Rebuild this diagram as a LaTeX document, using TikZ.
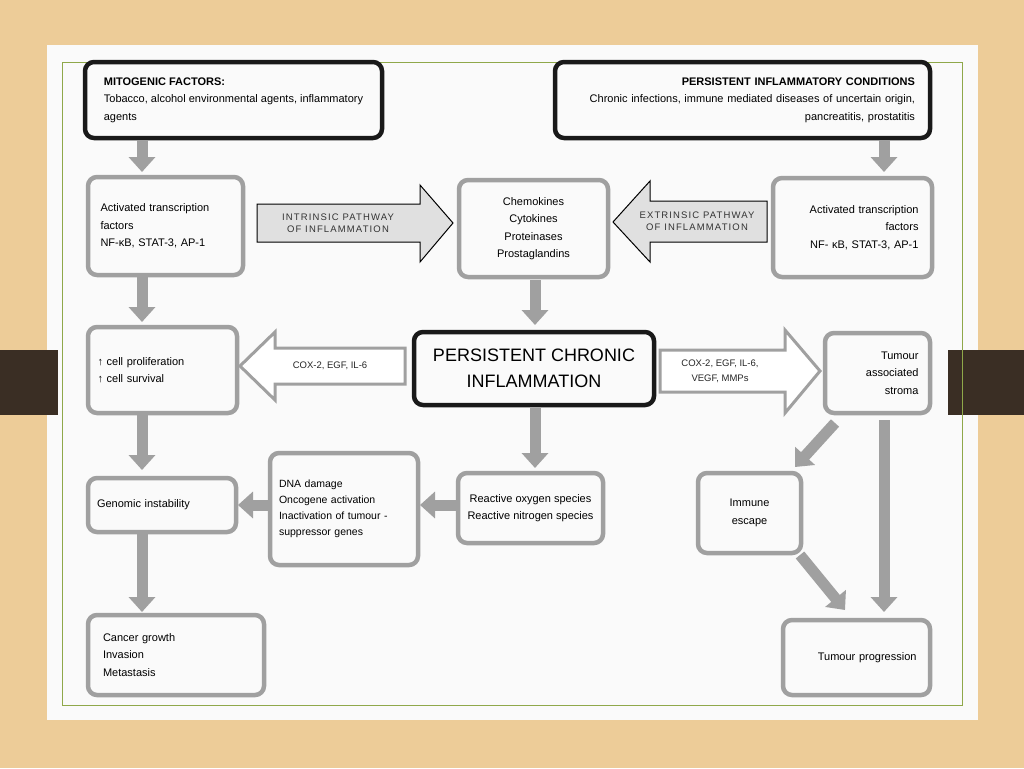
\documentclass[tikz,border=0pt]{standalone}
\usepackage{fontspec}
\setmainfont{Liberation Sans}
\usetikzlibrary{arrows.meta,shapes.arrows}
\definecolor{tan}{HTML}{EDCC98}
\definecolor{brn}{HTML}{3A2E24}
\definecolor{gr}{HTML}{A0A0A0}
\definecolor{frm}{HTML}{8FA84A}
\newcommand{\bx}[7]{\node[#2, minimum width={#5-#3}, minimum height={#6-#4}] (#1) at ({(#3+#5)/2},{(#4+#6)/2}) {#7};}
\begin{document}
\hyphenpenalty=10000
\begin{tikzpicture}[x=1pt,y=-1pt,
  base/.style={draw, rounded corners=9, inner sep=0, font=\fontsize{11}{17.5}\selectfont},
  blk/.style={base, line width=4.5pt, draw=black!90},
  gbox/.style={base, line width=4.5pt, draw=gr},
  ga/.style={draw=gr, line width=11pt, -{Triangle[width=26pt,length=15pt]}},
  lbl/.style={font=\fontsize{9.5}{12.5}\selectfont\addfontfeature{LetterSpace=12}, align=center, text=black!80},
  sml/.style={font=\fontsize{9.5}{15}\selectfont, align=center, text=black!85}]
\useasboundingbox (0,0) rectangle (1024,768);
\fill[tan] (0,0) rectangle (1024,768);
\fill[white!96!gray] (47,45) rectangle (978,720);
\fill[brn] (0,350) rectangle (58,415);
\fill[brn] (948,350) rectangle (1024,415);
\draw[frm, line width=1pt] (62,62) rectangle (962,705);
% boxes
\bx{mito}{blk, align=left, inner xsep=16, anchor=center}{85}{62}{382}{138}{\textbf{MITOGENIC FACTORS:}\\Tobacco, alcohol environmental agents, inflammatory\\agents}
\bx{pers}{blk, align=right, text width=345}{555}{62}{930}{138}{\textbf{PERSISTENT INFLAMMATORY CONDITIONS}\\Chronic infections, immune mediated diseases of uncertain origin,\\pancreatitis, prostatitis}
\bx{actL}{gbox, align=left, text width=130}{88}{177}{243}{275}{Activated transcription\\factors\\NF-κB, STAT-3, AP-1}
\bx{chem}{gbox, align=center}{459}{180}{608}{277}{Chemokines\\Cytokines\\Proteinases\\Prostaglandins}
\bx{actR}{gbox, align=right, text width=132}{773}{178}{932}{277}{Activated transcription\\factors\\NF- κB, STAT-3, AP-1}
\bx{prol}{gbox, align=left, text width=130}{88}{327}{237}{413}{↑ cell proliferation\\↑ cell survival}
\bx{pci}{blk, align=center, font=\fontsize{18}{26}\selectfont}{414}{332}{654}{405}{PERSISTENT CHRONIC\\INFLAMMATION}
\bx{str}{gbox, align=right, text width=82}{825}{333}{930}{413}{Tumour\\associated\\stroma}
\bx{gen}{gbox, align=left, text width=130}{88}{478}{236}{532}{Genomic instability}
\bx{dna}{gbox, align=left, text width=130, font=\fontsize{10.5}{16}\selectfont}{270}{453}{418}{565}{DNA damage\\Oncogene activation\\Inactivation of tumour -\\suppressor genes}
\bx{ros}{gbox, align=center}{458}{473}{603}{543}{Reactive oxygen species\\Reactive nitrogen species}
\bx{imm}{gbox, align=center}{698}{473}{801}{553}{Immune\\escape}
\bx{can}{gbox, align=left, text width=146}{88}{615}{264}{695}{Cancer growth\\Invasion\\Metastasis}
\bx{prog}{gbox, align=right, text width=120}{783}{620}{930}{695}{Tumour progression}
% block arrows
\draw[fill=black!12, line width=1pt] (257,204) -- (420,204) -- (420,185) -- (453,223) -- (420,262) -- (420,242) -- (257,242) -- cycle;
\node[lbl] (intr) at (338,223) {INTRINSIC PATHWAY\\OF INFLAMMATION};
\draw[fill=black!12, line width=1pt] (767,201) -- (650,201) -- (650,181) -- (613,222) -- (650,262) -- (650,242) -- (767,242) -- cycle;
\node[lbl] (extr) at (697,221) {EXTRINSIC PATHWAY\\OF INFLAMMATION};
\draw[draw=gr, fill=white, line width=3pt] (405,348) -- (275,348) -- (275,332) -- (240,366) -- (275,400) -- (275,384) -- (405,384) -- cycle;
\node[sml] (cl) at (330,366) {COX-2, EGF, IL-6};
\draw[draw=gr, fill=white, line width=3pt] (660,350) -- (785,350) -- (785,330) -- (820,371) -- (785,413) -- (785,392) -- (660,392) -- cycle;
\node[sml] (cr) at (720,371) {COX-2, EGF, IL-6,\\VEGF, MMPs};
% gray arrows
\draw[ga] (142,140) -- (142,172);
\draw[ga] (884,140) -- (884,172);
\draw[ga] (535,280) -- (535,325);
\draw[ga] (142,277) -- (142,322);
\draw[ga] (142,415) -- (142,470);
\draw[ga] (535,408) -- (535,468);
\draw[ga] (456,505) -- (420,505);
\draw[ga] (268,505) -- (238,505);
\draw[ga] (142,534) -- (142,612);
\draw[ga] (835,423) -- (795,467);
\draw[ga] (800,555) -- (845,610);
\draw[ga] (884,420) -- (884,612);
\end{tikzpicture}
\end{document}
